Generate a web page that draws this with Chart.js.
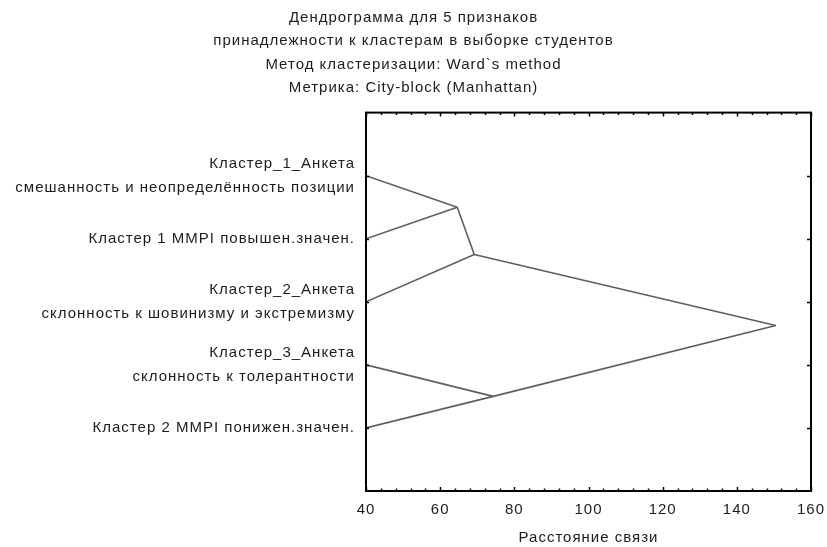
<!DOCTYPE html>
<html>
<head>
<meta charset="utf-8">
<script src="https://cdn.jsdelivr.net/npm/chart.js@4/dist/chart.umd.min.js"></script>
<style>
  body { margin: 0; background: #fff; }
  canvas { display: block; }
</style>
</head>
<body>
<canvas id="dendro" width="827" height="547"></canvas>
<script>
// Leaves, top to bottom (position 1..5 on the vertical axis)
const leafLabels = [
    ['Кластер_1_Анкета', 'смешанность и неопределённость позиции'],
    'Кластер 1 MMPI повышен.значен.',
    ['Кластер_2_Анкета', 'склонность к шовинизму и экстремизму'],
    ['Кластер_3_Анкета', 'склонность к толерантности'],
    'Кластер 2 MMPI понижен.значен.'
];
const leafPos = [1, 2, 3, 4, 5];

// Merges: node ids 1..5 are leaves, 6.. are created in this order
const mergeA = [1, 6, 4, 7];
const mergeB = [2, 3, 5, 8];
const mergeHeight = [64.6, 69.2, 74.3, 150.5];

// Axis
const xTicks = [40, 60, 80, 100, 120, 140, 160];
const xMin = 40, xMax = 160;

const titleLines = [
    'Дендрограмма для 5 признаков',
    'принадлежности к кластерам в выборке студентов',
    'Метод кластеризации: Ward`s method',
    'Метрика: City-block (Manhattan)'
];

// Build node coordinates
const nodeX = {}, nodeY = {};
leafPos.forEach((p, i) => { nodeX[i + 1] = xMin; nodeY[i + 1] = p; });
const datasets = [];
mergeA.forEach((a, i) => {
    const b = mergeB[i];
    const id = leafPos.length + 1 + i;
    nodeX[id] = mergeHeight[i];
    nodeY[id] = (nodeY[a] + nodeY[b]) / 2;
    [a, b].forEach(child => {
        datasets.push({
            data: [{x: nodeX[child], y: nodeY[child]}, {x: nodeX[id], y: nodeY[id]}],
            showLine: true,
            borderColor: '#5e5e5e',
            borderWidth: 1.6,
            pointRadius: 0,
            fill: false
        });
    });
});

const textColor = '#1c1c1c';
const fontFamily = '"Liberation Sans", Arial, sans-serif';

// letter spacing of the original is rather wide
const spacingPlugin = {
    id: 'spacing',
    beforeUpdate(chart) { chart.ctx.letterSpacing = '1px'; },
    beforeDraw(chart) { chart.ctx.letterSpacing = '1px'; }
};

// Frame with inward tick marks
const framePlugin = {
    id: 'frame',
    afterDatasetsDraw(chart) {
        const {ctx, chartArea: a, scales} = chart;
        ctx.save();
        ctx.strokeStyle = '#000';
        ctx.lineWidth = 1.5;
        // minor + major ticks on top and bottom
        for (let v = xMin; v <= xMax; v += 4) {
            const px = Math.round(scales.x.getPixelForValue(v)) + 0.5;
            const len = xTicks.includes(v) ? 4 : 2.5;
            ctx.beginPath();
            ctx.moveTo(px, a.bottom); ctx.lineTo(px, a.bottom - len);
            ctx.moveTo(px, a.top); ctx.lineTo(px, a.top + len);
            ctx.stroke();
        }
        leafPos.forEach(p => {
            const py = Math.round(scales.y.getPixelForValue(p)) + 0.5;
            ctx.beginPath();
            ctx.moveTo(a.left, py); ctx.lineTo(a.left + 3, py);
            ctx.moveTo(a.right, py); ctx.lineTo(a.right - 4, py);
            ctx.stroke();
        });
        ctx.lineWidth = 2;
        ctx.strokeRect(a.left, a.top, a.right - a.left, a.bottom - a.top);
        ctx.restore();
    }
};

new Chart(document.getElementById('dendro'), {
    type: 'scatter',
    data: { datasets: datasets },
    plugins: [spacingPlugin, framePlugin],
    options: {
        responsive: false,
        animation: false,
        layout: { padding: 0 },
        plugins: {
            legend: { display: false },
            tooltip: { enabled: false },
            title: {
                display: true,
                text: titleLines,
                color: textColor,
                font: { family: fontFamily, size: 15, weight: 'normal', lineHeight: 1.56 },
                padding: { top: 6, bottom: 13 }
            }
        },
        scales: {
            x: {
                type: 'linear',
                min: xMin,
                max: xMax,
                afterBuildTicks: s => { s.ticks = xTicks.map(v => ({value: v})); },
                afterFit: s => { s.height = 56; s.paddingRight = 16; s.paddingLeft = 0; },
                grid: { display: false, drawTicks: false },
                border: { display: false },
                ticks: { color: textColor, padding: 10, font: { family: fontFamily, size: 15 } },
                title: {
                    display: true,
                    text: 'Расстояние связи',
                    color: textColor,
                    padding: { top: 0, bottom: 0 },
                    font: { family: fontFamily, size: 15 }
                }
            },
            y: {
                type: 'linear',
                min: 0,
                max: 6,
                reverse: true,
                afterBuildTicks: s => { s.ticks = leafPos.map(v => ({value: v})); },
                afterFit: s => { s.width = 366; },
                grid: { display: false, drawTicks: false },
                border: { display: false },
                ticks: {
                    color: textColor,
                    padding: 11,
                    autoSkip: false,
                    font: { family: fontFamily, size: 15, lineHeight: 1.6 },
                    callback: v => leafLabels[leafPos.indexOf(v)]
                }
            }
        }
    }
});
</script>
</body>
</html>
